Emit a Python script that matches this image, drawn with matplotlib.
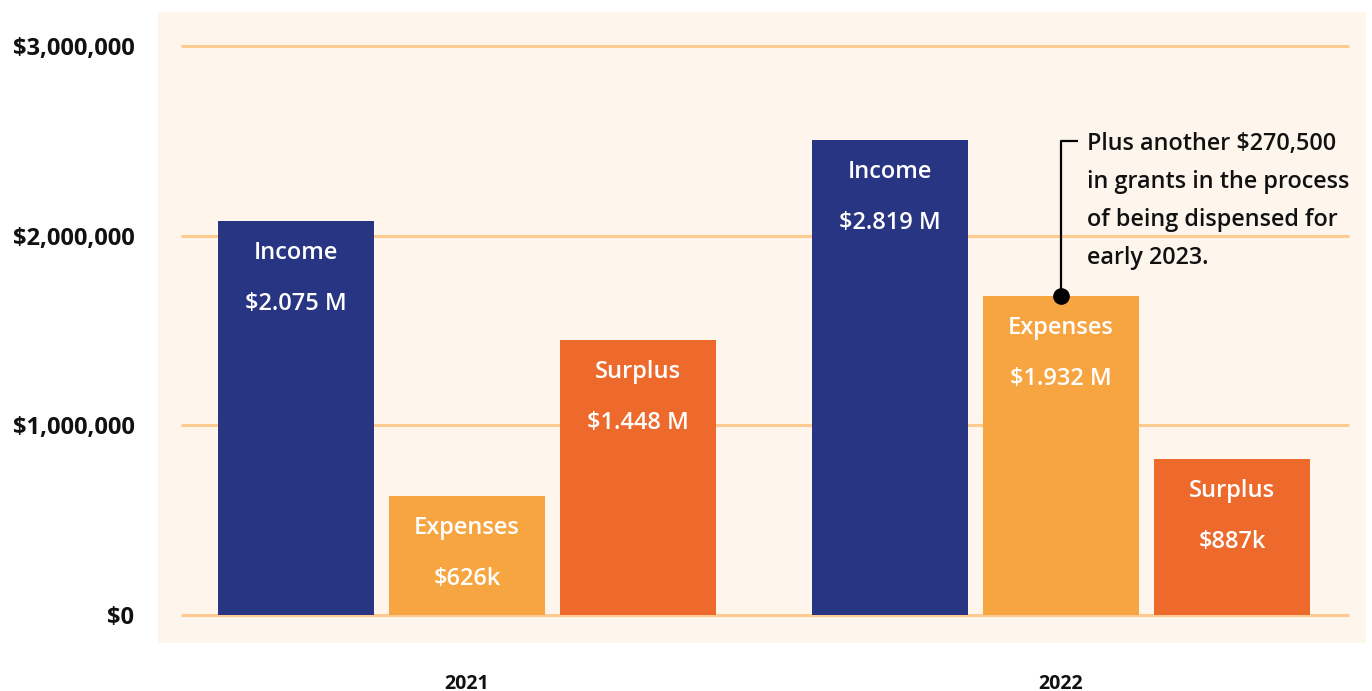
import matplotlib
matplotlib.use("Agg")
import matplotlib.pyplot as plt
import numpy as np

# ---- data ----
years = ["2021", "2022"]
categories = ["Income", "Expenses", "Surplus"]
income = [2.075e6, 2.505e6]
expenses = [0.626e6, 1.68e6]
surplus = [1.448e6, 0.825e6]
income_labels = ["$2.075 M", "$2.819 M"]
expenses_labels = ["$626k", "$1.932 M"]
surplus_labels = ["$1.448 M", "$887k"]
yticks = [0, 1e6, 2e6, 3e6]
ytick_labels = ["$0", "$1,000,000", "$2,000,000", "$3,000,000"]
note = "Plus another $270,500\nin grants in the process\nof being dispensed for\nearly 2023."

colors = ["#283583", "#F7A541", "#EE6A2C"]
bg = "#FEF5EC"
grid_c = "#FDCB8F"

plt.rcParams['font.family'] = ['Open Sans', 'DejaVu Sans']

W, H = 1372, 691
fig = plt.figure(figsize=(W / 100, H / 100), dpi=100)
px0, px1, py0, py1 = 158, 1366, 12, 643
ax = fig.add_axes([px0 / W, 1 - py1 / H, (px1 - px0) / W, (py1 - py0) / H])
ax.set_facecolor(bg)

gsp = 594.0
c0 = 467.0
ax.set_xlim((px0 - c0) / gsp, (px1 - c0) / gsp)
ppm = (615 - 46) / 3.0
ax.set_ylim((615 - py1) / ppm * 1e6, (615 - py0) / ppm * 1e6)

gx0, gx1 = (181 - c0) / gsp, (1349 - c0) / gsp
ax.hlines(yticks, gx0, gx1, color=grid_c, lw=2.2, zorder=1)

width = 156 / gsp
step = 171 / gsp
x = np.arange(len(years))
series = [income, expenses, surplus]
labels = [income_labels, expenses_labels, surplus_labels]
for i, (vals, labs, cat) in enumerate(zip(series, labels, categories)):
    xs = x + (i - 1) * step
    ax.bar(xs, vals, width=width, color=colors[i], zorder=2)
    for xi, v, lab in zip(xs, vals, labs):
        ax.annotate(cat, (xi, v), xytext=(0, -32), textcoords='offset pixels',
                    ha='center', va='center', color='white', fontsize=17, fontweight='semibold', zorder=3)
        ax.annotate(lab, (xi, v), xytext=(0, -83), textcoords='offset pixels',
                    ha='center', va='center', color='white', fontsize=17, fontweight='semibold', zorder=3)

ex = x[1]
ey = expenses[1]
ytop = (615 - 141) / ppm * 1e6
xh = (1078 - c0) / gsp
ax.plot([ex, ex, xh], [ey, ytop, ytop], color='black', lw=1.6, zorder=4, solid_capstyle='butt')
ax.plot([ex], [ey], 'o', color='black', ms=11, zorder=5)
ax.annotate(note, ((1087 - c0) / gsp, ytop), xytext=(0, 9), textcoords='offset pixels',
            ha='left', va='top', fontsize=16.8, fontweight='semibold', color='#111111',
            linespacing=1.77, zorder=5)

ax.set_yticks(yticks)
ax.set_yticklabels(ytick_labels, fontsize=17, fontweight='bold', color='#111111')
ax.set_xticks(x)
ax.set_xticklabels(years, fontsize=14, fontweight='bold', color='#111111')
ax.tick_params(axis='y', length=0, pad=17)
ax.tick_params(axis='x', length=0, pad=22)
for s in ax.spines.values():
    s.set_visible(False)

fig.savefig("out.png", dpi=100, facecolor='white')
